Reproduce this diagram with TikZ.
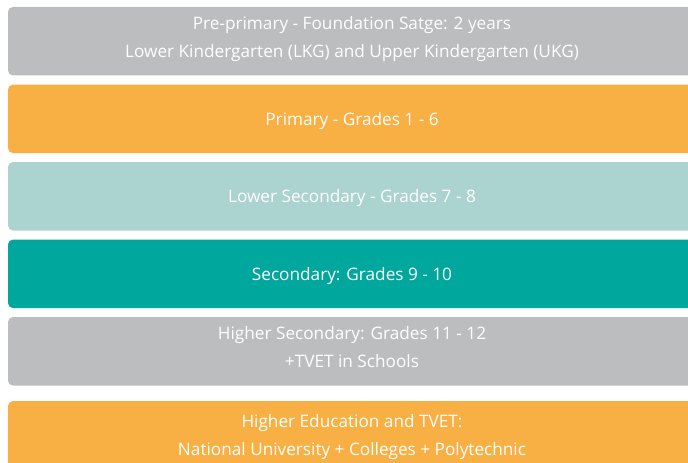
\documentclass[tikz,border=0pt]{standalone}
\usepackage{fontspec}
\setmainfont{Open Sans}
\usepackage{tikz}
\definecolor{StageGray}{HTML}{BCBDBF}
\definecolor{StageOrange}{HTML}{F8AF43}
\definecolor{StageMint}{HTML}{ABD3CF}
\definecolor{StageTeal}{HTML}{00A79D}
\setlength{\tabcolsep}{0pt}

\begin{document}
\begin{tikzpicture}[x=1pt, y=-1pt,
    stage/.style={rectangle, rounded corners=5pt, minimum width=688pt, minimum height=68.5pt,
      inner sep=0pt, text=white, font=\fontsize{17.2}{28}\selectfont},
    oneline/.style={stage, text height=13pt, text depth=0pt},
    twoline/.style={stage, text height=2.4pt, text depth=25.6pt}]
      \clip (0, 0) rectangle (688, 463);
      \node (A) [twoline, fill=StageGray] at (352, 41.2) {
        \begin{tabular}[t]{c}
          Pre-primary - Foundation Satge: 2 years \\
          Lower Kindergarten (LKG) and Upper Kindergarten (UKG)
        \end{tabular}
      };
      \node (B) [oneline, fill=StageOrange] at (352, 118.8) {Primary - Grades 1 - 6};
      \node (C) [oneline, fill=StageMint] at (352, 196.3) {Lower Secondary - Grades 7 - 8};
      \node (D) [oneline, fill=StageTeal] at (352, 273.8) {Secondary: Grades 9 - 10};
      \node (E) [twoline, fill=StageGray] at (352, 351.3) {
        \begin{tabular}[t]{c}
          Higher Secondary: Grades 11 - 12 \\
          +TVET in Schools
        \end{tabular}
      };
      \node (F) [twoline, text height=5.8pt, text depth=22.2pt, fill=StageOrange] at (352, 435.3) {
        \begin{tabular}[t]{c}
          Higher Education and TVET: \\
          National University + Colleges + Polytechnic
        \end{tabular}
      };
    \end{tikzpicture}
\end{document}
